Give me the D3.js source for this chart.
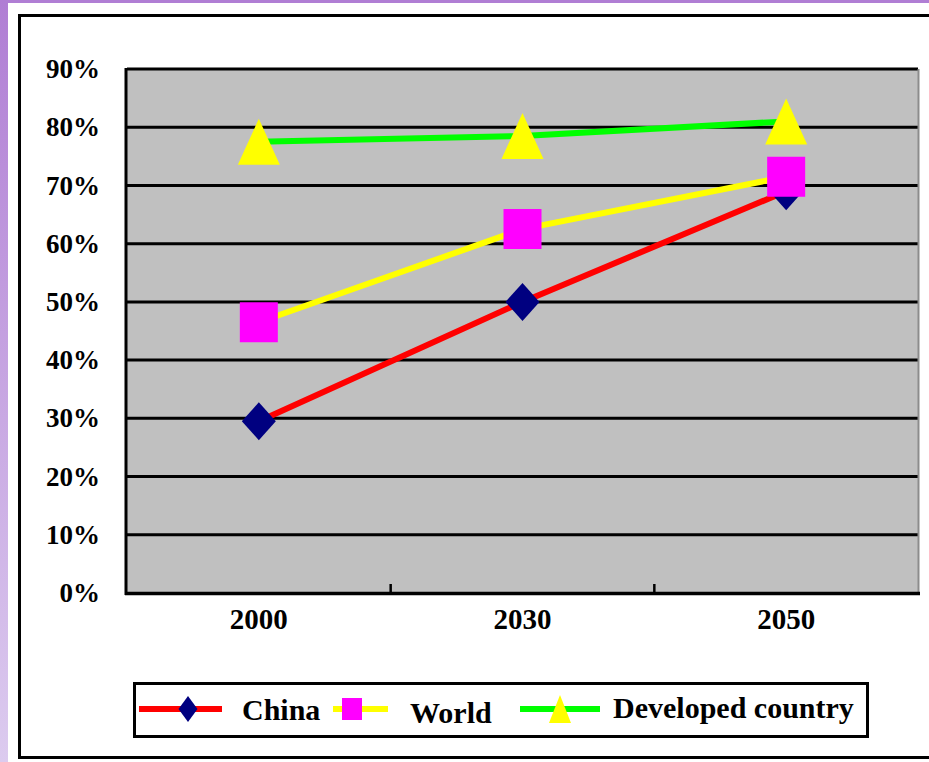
<!DOCTYPE html>
<html>
<head>
<meta charset="utf-8">
<script src="https://cdn.jsdelivr.net/npm/d3@7/dist/d3.min.js"></script>
<style>
  html, body { margin: 0; padding: 0; background: #ffffff; }
  svg { display: block; }
</style>
</head>
<body>
<svg id="chart" width="929" height="762"></svg>
<script>
// Urbanization rate (%) by year
const years = ["2000", "2030", "2050"];
const china = [29.5, 50, 69];
const world = [46.5, 62.5, 71.5];
const developed = [77.5, 78.5, 81];
const yTicks = [0, 10, 20, 30, 40, 50, 60, 70, 80, 90];
const seriesNames = ["China", "World", "Developed country"];

const svg = d3.select("#chart");
const W = 929, H = 762;

// Side strip of the slide background
const defs = svg.append("defs");
const grad = defs.append("linearGradient").attr("id", "strip")
  .attr("x1", 0).attr("y1", 0).attr("x2", 0).attr("y2", 1);
grad.append("stop").attr("offset", "0%").attr("stop-color", "#b07ed4");
grad.append("stop").attr("offset", "55%").attr("stop-color", "#c9a9e3");
grad.append("stop").attr("offset", "100%").attr("stop-color", "#dccbef");
svg.append("rect").attr("x", 0).attr("y", 0).attr("width", W).attr("height", 3).attr("fill", "#b07ed4");
svg.append("rect").attr("x", 0).attr("y", 0).attr("width", 8).attr("height", H).attr("fill", "url(#strip)");

// Chart frame
svg.append("rect").attr("x", 19.5).attr("y", 15.5).attr("width", W + 10).attr("height", 742)
  .attr("fill", "#ffffff").attr("stroke", "#000").attr("stroke-width", 3);

const plot = { left: 127, right: 918, top: 69, bottom: 593 };
const x = d3.scaleBand().domain(years).range([plot.left, plot.right]);
const y = d3.scaleLinear().domain([0, 90]).range([plot.bottom, plot.top]);

// Plot background
svg.append("rect")
  .attr("x", plot.left).attr("y", plot.top)
  .attr("width", plot.right - plot.left).attr("height", plot.bottom - plot.top)
  .attr("fill", "#c0c0c0");

// Gridlines
svg.append("g").selectAll("line").data(yTicks.filter(d => d > 0)).join("line")
  .attr("x1", plot.left).attr("x2", plot.right)
  .attr("y1", d => y(d)).attr("y2", d => y(d))
  .attr("stroke", "#000").attr("stroke-width", 3);

// Right edge of plot
svg.append("line").attr("x1", plot.right + 0.5).attr("x2", plot.right + 0.5)
  .attr("y1", plot.top).attr("y2", plot.bottom)
  .attr("stroke", "#8c8c8c").attr("stroke-width", 2);

// Axes lines
svg.append("line").attr("x1", plot.left - 1).attr("x2", plot.left - 1)
  .attr("y1", plot.top - 1).attr("y2", plot.bottom + 2)
  .attr("stroke", "#000").attr("stroke-width", 3);
svg.append("line").attr("x1", plot.left - 2).attr("x2", plot.right + 2)
  .attr("y1", plot.bottom + 0.5).attr("y2", plot.bottom + 0.5)
  .attr("stroke", "#000").attr("stroke-width", 3.5);

// Category separators on the x axis (pointing into the plot)
svg.append("g").selectAll("line").data(years.slice(1)).join("line")
  .attr("x1", d => x(d)).attr("x2", d => x(d))
  .attr("y1", plot.bottom - 9).attr("y2", plot.bottom)
  .attr("stroke", "#000").attr("stroke-width", 2.5);

// Y axis labels
const yAxis = svg.append("g").attr("transform", `translate(${plot.left - 1},0)`)
  .call(d3.axisLeft(y).tickValues(yTicks).tickFormat(d => d + "%").tickSize(0).tickPadding(26));
yAxis.select(".domain").remove();
yAxis.selectAll("text")
  .attr("font-family", "'Liberation Serif', 'Times New Roman', serif")
  .attr("font-weight", "bold").attr("font-size", 27).attr("fill", "#000");

// X axis labels
const xAxis = svg.append("g").attr("transform", `translate(0,${plot.bottom})`)
  .call(d3.axisBottom(x).tickSize(0).tickPadding(36));
xAxis.select(".domain").remove();
xAxis.selectAll("text")
  .attr("font-family", "'Liberation Serif', 'Times New Roman', serif")
  .attr("font-weight", "bold").attr("font-size", 29).attr("fill", "#000")
  .attr("dy", "0");

// Marker shapes centered on (0,0)
function diamond(w, h) {
  return `M0,${-h / 2}L${w / 2},0L0,${h / 2}L${-w / 2},0Z`;
}
function square(w, h) {
  return `M${-w / 2},${-h / 2}H${w / 2}V${h / 2}H${-w / 2}Z`;
}
function triangle(w, h) {
  return `M0,${-h / 2}L${w / 2},${h / 2}L${-w / 2},${h / 2}Z`;
}

const series = [
  { name: seriesNames[0], values: china, line: "#ff0000", marker: "#000080", shape: diamond, mw: 34, mh: 38, lw: 19, lh: 26 },
  { name: seriesNames[1], values: world, line: "#ffff00", marker: "#ff00ff", shape: square, mw: 38, mh: 40, lw: 20, lh: 22 },
  { name: seriesNames[2], values: developed, line: "#00ff00", marker: "#ffff00", shape: triangle, mw: 42, mh: 46, lw: 22, lh: 28 }
];

const lineGen = d3.line()
  .x((d, i) => x(years[i]) + x.bandwidth() / 2)
  .y(d => y(d));

series.forEach(s => {
  const g = svg.append("g");
  g.append("path").datum(s.values)
    .attr("d", lineGen)
    .attr("fill", "none").attr("stroke", s.line).attr("stroke-width", 6);
  g.selectAll("path.m").data(s.values).join("path").attr("class", "m")
    .attr("transform", (d, i) => `translate(${x(years[i]) + x.bandwidth() / 2},${y(d)})`)
    .attr("d", s.shape(s.mw, s.mh))
    .attr("fill", s.marker);
});

// Legend
const legend = svg.append("g");
legend.append("rect").attr("x", 134.5).attr("y", 683.5).attr("width", 733).attr("height", 53)
  .attr("fill", "#fff").attr("stroke", "#000").attr("stroke-width", 3);

const legendItems = [
  { lineFrom: 139, lineTo: 222, markX: 188, textX: 242, baseline: 720 },
  { lineFrom: 333, lineTo: 388, markX: 352, textX: 410, baseline: 723 },
  { lineFrom: 520, lineTo: 600, markX: 560, textX: 613, baseline: 718 }
];
series.forEach((s, i) => {
  const it = legendItems[i];
  const ly = 709;
  legend.append("line").attr("x1", it.lineFrom).attr("x2", it.lineTo)
    .attr("y1", ly).attr("y2", ly).attr("stroke", s.line).attr("stroke-width", 6);
  legend.append("path").attr("transform", `translate(${it.markX},${ly})`)
    .attr("d", s.shape(s.lw, s.lh)).attr("fill", s.marker);
  legend.append("text").attr("x", it.textX).attr("y", it.baseline)
    .attr("font-family", "'Liberation Serif', 'Times New Roman', serif")
    .attr("font-weight", "bold").attr("font-size", 30).attr("fill", "#000")
    .text(s.name);
});
</script>
</body>
</html>
